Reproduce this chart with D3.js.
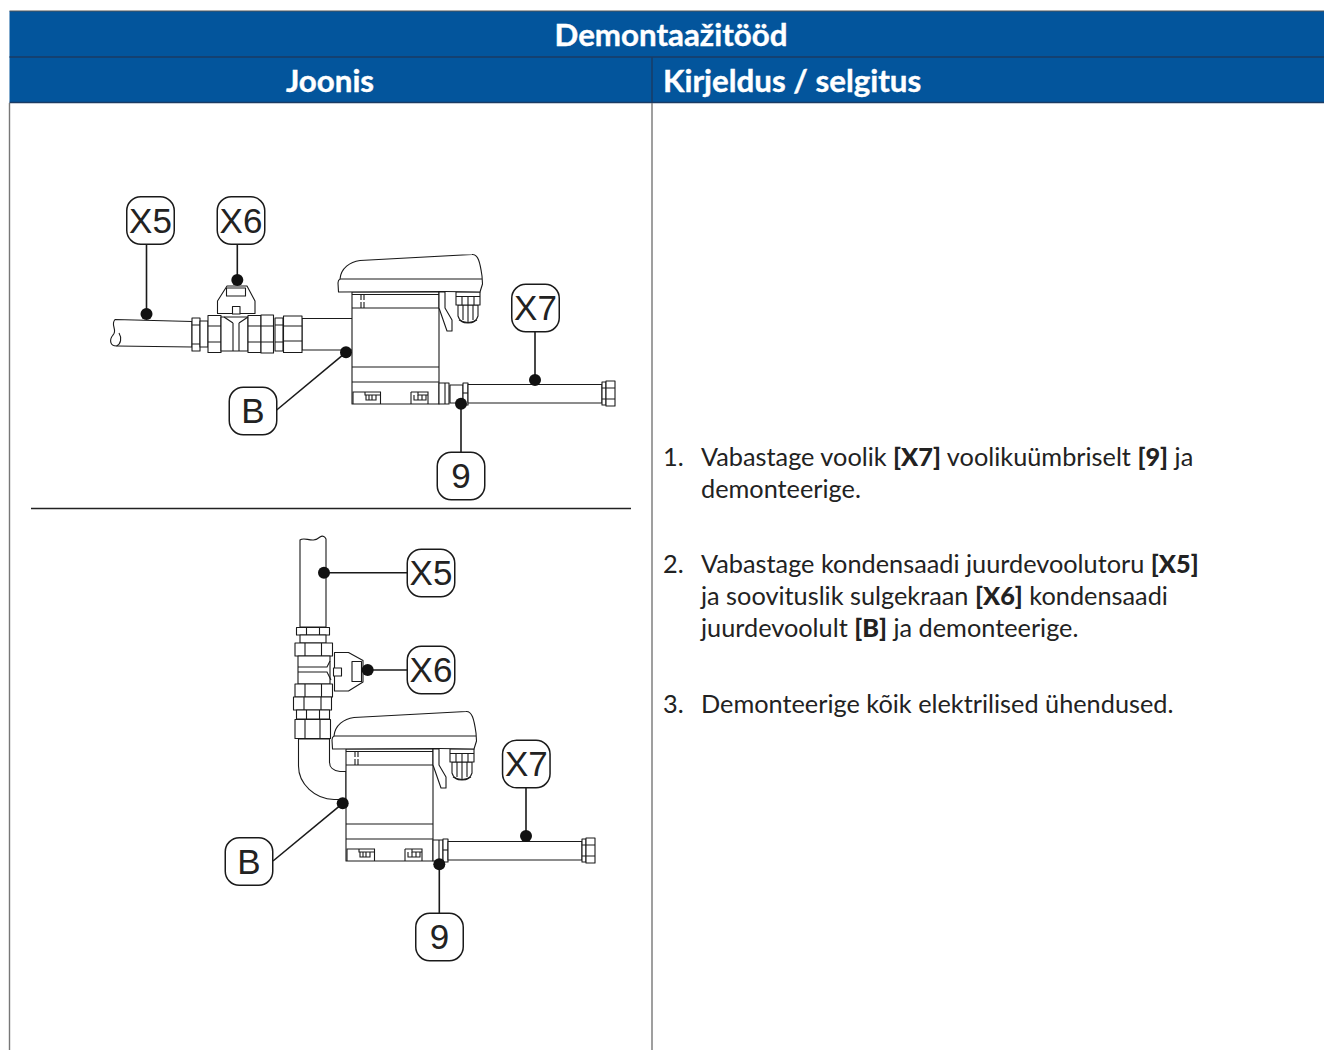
<!DOCTYPE html>
<head>
  <meta charset="utf-8">
  <title>Demontaažitööd</title>
  <style>
    html, body { margin: 0; background: #fff; }
    svg { display: block; }
    .ln { fill: #fff; stroke: #1a1a1a; stroke-width: 1.1px; stroke-linejoin: round; }
    .open { fill: none; stroke: #1a1a1a; stroke-width: 1.1px; }
    .head { font-family: "Lato", sans-serif; font-weight: 700; font-size: 31.3px; fill: #fff; stroke: #fff; stroke-width: 0.4px; }
    .step { font-family: "Lato", sans-serif; font-size: 25.3px; fill: #222; }
    .step tspan.b { font-weight: 900; }
    .tag { font-family: "Liberation Sans", Arial, sans-serif; font-size: 35px; fill: #222; text-anchor: middle; }
  </style>
</head>
<body>
  <div id="chart"></div>
  <script src="https://d3js.org/d3.v7.min.js"></script>
  <script>
    var title = "Demontaažitööd";
    var colHeads = ["Joonis", "Kirjeldus / selgitus"];
    var stepNumbers = ["1.", "2.", "3."];
    // each line is a list of [text, bold]
    var step1 = [[["Vabastage voolik ", 0], ["[X7]", 1], [" voolikuümbriselt ", 0], ["[9]", 1], [" ja", 0]],
                 [["demonteerige.", 0]]];
    var step2 = [[["Vabastage kondensaadi juurdevoolutoru ", 0], ["[X5]", 1]],
                 [["ja soovituslik sulgekraan ", 0], ["[X6]", 1], [" kondensaadi", 0]],
                 [["juurdevoolult ", 0], ["[B]", 1], [" ja demonteerige.", 0]]];
    var step3 = [[["Demonteerige kõik elektrilised ühendused.", 0]]];
    var tagLabels = ["X5", "X6", "B", "X7", "9"];

    var width = 1324, height = 1050;
    var blue = "#03559c";

    var svg = d3.select("#chart").append("svg")
        .attr("width", width).attr("height", height)
        .attr("viewBox", "0 0 " + width + " " + height);

    // table frame
    svg.append("rect").attr("x", 9.5).attr("y", 11).attr("width", 1314.5).attr("height", 91.5)
        .attr("fill", blue);
    svg.append("path").attr("d", "M9.5,11H1324").attr("stroke", "#555").attr("stroke-width", 1);
    svg.append("path").attr("d", "M9.5,57H1324M9.5,102.5H1324M652,57V102.5").attr("stroke", "#1b3b63").attr("stroke-width", 1.4);
    svg.append("path").attr("d", "M9.5,103V1050M652,103V1050").attr("stroke", "#777").attr("stroke-width", 1.4);
    svg.append("path").attr("d", "M31,508.5H631").attr("stroke", "#222").attr("stroke-width", 1.4);

    svg.append("text").attr("class", "head").attr("x", 671).attr("y", 46)
        .attr("text-anchor", "middle").text(title);
    svg.append("text").attr("class", "head").attr("x", 330).attr("y", 92)
        .attr("text-anchor", "middle").text(colHeads[0]);
    svg.append("text").attr("class", "head").attr("x", 663).attr("y", 92).text(colHeads[1]);

    // instruction list
    var lineY = [[466.3, 498.3], [573.3, 605.3, 637.3], [713.3]];
    [step1, step2, step3].forEach(function(step, i) {
      svg.append("text").attr("class", "step").attr("x", 663).attr("y", lineY[i][0]).text(stepNumbers[i]);
      step.forEach(function(line, j) {
        svg.append("text").attr("class", "step").attr("x", 701).attr("y", lineY[i][j])
          .selectAll("tspan").data(line).enter().append("tspan")
          .attr("class", function(d) { return d[1] ? "b" : null; })
          .style("white-space", "pre")
          .text(function(d) { return d[0]; });
      });
    });

    function rect(g, x0, y0, x1, y1) {
      g.append("rect").attr("class", "ln").attr("x", x0).attr("y", y0)
        .attr("width", x1 - x0).attr("height", y1 - y0);
    }
    function line(g, d) { g.append("path").attr("class", "open").attr("d", d); }
    function shape(g, d) { g.append("path").attr("class", "ln").attr("d", d); }

    // box with cover, drawn in the coordinates of the upper figure
    function drawUnit(g) {
      // gland under the cover
      shape(g, "M458,305 L458,316 Q460,323 468,323 Q476,323 478,316 L478,305 Z");
      line(g, "M463,305V320M468,305V322M473,305V320");
      line(g, "M459,320Q468,325 477,320");
      rect(g, 456, 292, 480, 305);
      line(g, "M456,296.5H480M462,296.5V305M468,296.5V305M474,296.5V305");
      // housing
      rect(g, 352, 292, 439, 404);
      line(g, "M352,294.5H439M352,308H439M352,367H439M352,382H439");
      line(g, "M361,294V300M364,294V300M361,302V308M364,302V308");
      line(g, "M440,294V300M443,294V300M440,302V308M443,302V308");
      // feet
      line(g, "M353,404V392H380.5V404M365,392V395H380M411,392V404M411,392H428V404M418,392V395H428");
      line(g, "M366,395V400H376V395M369,395V400M372,395V400");
      line(g, "M414,395V400H426V395M418,395V400M422,395V400");
      // latch
      shape(g, "M445,292V308L452,320V331H447L439,308V292Z");
      // cover
      shape(g, "M338.5,292 L338,283 Q338,280 340,279 C341,268 350,262 360,260.5 L472,254.5 C478,254 480,262 482,276 L482.5,284 L480,292 L445,291.5 Z");
      line(g, "M340,279H482");
    }

    function drawHose(g) {
      rect(g, 468, 384.5, 602, 403);
      rect(g, 602, 382, 606, 405);
      rect(g, 606, 381, 615, 406);
      line(g, "M602,388H615M602,399H615");
    }

    // upper figure
    var top1 = svg.append("g");
    shape(top1, "M115,319.5 L192,321.5 V347 L116.5,346 C110,346 109,340 113,335 C118,330 110,325 115,319.5 Z");
    line(top1, "M116.5,346 C121,344 122,338 119,333");
    rect(top1, 302, 318.5, 353, 350);
    rect(top1, 192, 318, 200, 351); line(top1, "M192,325H200M192,344H200");
    rect(top1, 200, 321, 208, 347);
    rect(top1, 208, 315.5, 221, 352.5); line(top1, "M208,326H221M208,342H221");
    rect(top1, 221, 317, 248, 351);
    line(top1, "M233,323V351M239,323V351M224,317L233,323M248,317L239,323");
    rect(top1, 248, 315.5, 261, 352.5); line(top1, "M248,326H261M248,342H261");
    rect(top1, 261, 315, 273.5, 353); line(top1, "M261,326H273.5M261,342H273.5");
    rect(top1, 275, 318, 283, 351); line(top1, "M275,325H283M275,342H283");
    rect(top1, 283.5, 316, 302, 352.5); line(top1, "M283.5,326H302M283.5,341H302");
    // valve handle
    shape(top1, "M227,286H247L255,301V313.5H217.5V301Z");
    rect(top1, 226.5, 288, 245.5, 296);
    rect(top1, 232.5, 306.5, 240, 314);
    drawUnit(top1);
    rect(top1, 439, 383, 449, 404); line(top1, "M445,383V404");
    rect(top1, 450, 385, 463, 403);
    rect(top1, 463, 383, 468, 405); line(top1, "M463,393H468");
    drawHose(top1);

    // lower figure
    var top2 = svg.append("g");
    shape(top2, "M300,540 C305,536 312,544 320,537 C323,535 325,537 326,539 V627 H300 Z");
    rect(top2, 296.5, 627.5, 329.5, 635); line(top2, "M306.5,627.5V635M319.5,627.5V635");
    rect(top2, 300, 635, 326, 643);
    rect(top2, 295, 643, 332.5, 656); line(top2, "M305,643V656M321.5,643V656");
    rect(top2, 298, 656, 330, 684);
    line(top2, "M298,667H327L330,661M298,672H327L331,680");
    rect(top2, 295, 684, 332.5, 697); line(top2, "M305,684V697M321.5,684V697");
    rect(top2, 293.5, 697, 331.5, 710); line(top2, "M304,697V710M321,697V710");
    rect(top2, 296.5, 710, 329.5, 719); line(top2, "M306.5,710V719M319.5,710V719");
    rect(top2, 295, 719.5, 330.5, 738.5); line(top2, "M305,719.5V738.5M320,719.5V738.5");
    shape(top2, "M298.5,739 V766 C298.5,784 315,799 334,799.5 H346 V771.5 H340 C333,771 329.5,767 329.5,762 V739 Z");
    // handle on the side
    shape(top2, "M334.5,652.5H348.5L363,660.5V682L348.5,691H334.5V652.5Z");
    rect(top2, 352, 661.5, 361.5, 681.5);
    rect(top2, 333.5, 668, 341.5, 676);
    var unit2 = top2.append("g").attr("transform", "translate(-6,457)");
    drawUnit(unit2);
    rect(top2, 433, 840, 443, 861); line(top2, "M439,840V861");
    rect(top2, 443, 839, 448, 862); line(top2, "M443,850H448");
    drawHose(top2.append("g").attr("transform", "translate(-20,457)"));

    // callouts: tag index, tag centre, dot, where the leader leaves the tag
    var callouts = [
      [0, 150.5, 220.5, 146.5, 314, 146.5, 244],
      [1, 241, 220.5, 237.3, 280, 237.3, 244],
      [2, 253, 411, 346, 352.3, 276.7, 410],
      [3, 535.5, 308, 535, 380, 535, 332],
      [4, 461, 476, 461, 403.7, 461, 452],
      [0, 431, 573, 324, 572.7, 407, 572.7],
      [1, 431, 670, 367.7, 670, 407, 670],
      [2, 249, 861.5, 342.7, 803.3, 273, 861],
      [3, 526.3, 764, 526, 836, 526, 788],
      [4, 439.5, 937, 439.3, 864.3, 439.3, 913]
    ];

    var c = svg.selectAll(".callout").data(callouts).enter().append("g").attr("class", "callout");
    c.append("line")
        .attr("x1", function(d) { return d[3]; }).attr("y1", function(d) { return d[4]; })
        .attr("x2", function(d) { return d[5]; }).attr("y2", function(d) { return d[6]; })
        .attr("stroke", "#1a1a1a").attr("stroke-width", 1.6);
    c.append("circle").attr("r", 6)
        .attr("cx", function(d) { return d[3]; }).attr("cy", function(d) { return d[4]; })
        .attr("fill", "#111");
    c.append("rect").attr("width", 47.5).attr("height", 47.5).attr("rx", 14)
        .attr("x", function(d) { return d[1] - 23.75; }).attr("y", function(d) { return d[2] - 23.75; })
        .attr("fill", "#fff").attr("stroke", "#1a1a1a").attr("stroke-width", 1.5);
    c.append("text").attr("class", "tag")
        .attr("x", function(d) { return d[1]; }).attr("y", function(d) { return d[2] + 12; })
        .text(function(d) { return tagLabels[d[0]]; });
  </script>
</body>
